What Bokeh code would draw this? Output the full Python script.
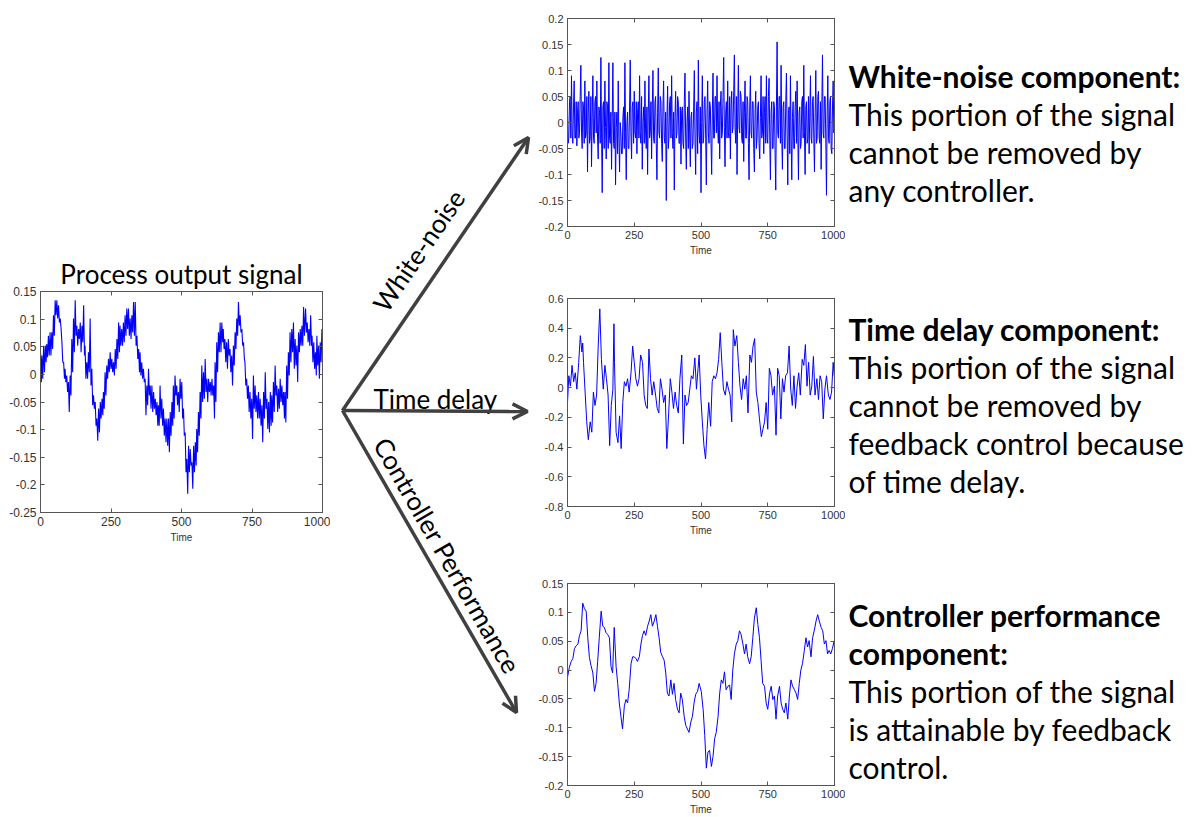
import math
from bokeh.plotting import figure
from bokeh.layouts import row, column
from bokeh.models import Range1d, FixedTicker, LinearAxis, Arrow, OpenHead, Spacer, CustomJSTickFormatter
from bokeh.core.properties import value
from bokeh.embed import file_html
from bokeh.resources import INLINE

# ---------------- data ----------------
x_ticks = [0, 250, 500, 750, 1000]
x_tick_labels = ["0", "250", "500", "750", "1000"]

proc_y_ticks = [-0.25, -0.2, -0.15, -0.1, -0.05, 0.0, 0.05, 0.1, 0.15]
proc_y_labels = ["-0.25", "-0.2", "-0.15", "-0.1", "-0.05", "0", "0.05", "0.1", "0.15"]
wn_y_ticks = [-0.2, -0.15, -0.1, -0.05, 0.0, 0.05, 0.1, 0.15, 0.2]
wn_y_labels = ["-0.2", "-0.15", "-0.1", "-0.05", "0", "0.05", "0.1", "0.15", "0.2"]
td_y_ticks = [-0.8, -0.6, -0.4, -0.2, 0.0, 0.2, 0.4, 0.6]
td_y_labels = ["-0.8", "-0.6", "-0.4", "-0.2", "0", "0.2", "0.4", "0.6"]
cp_y_ticks = [-0.2, -0.15, -0.1, -0.05, 0.0, 0.05, 0.1, 0.15]
cp_y_labels = ["-0.2", "-0.15", "-0.1", "-0.05", "0", "0.05", "0.1", "0.15"]

# Process output signal: sample times with upper / lower extent of the noisy trace
proc_t = [0, 5, 11, 17, 22, 28, 34, 40, 46, 52,
          58, 64, 70, 76, 82, 87, 93, 99, 105, 111,
          117, 123, 129, 135, 141, 147, 153, 158, 164, 170,
          176, 182, 188, 194, 200, 206, 212, 218, 223, 229,
          235, 241, 247, 253, 259, 265, 271, 277, 282, 288,
          294, 300, 306, 312, 318, 324, 330, 336, 342, 348,
          353, 359, 365, 371, 377, 383, 389, 395, 401, 407,
          413, 418, 424, 430, 436, 442, 448, 454, 460, 466,
          471, 477, 483,
          489, 495, 501, 507, 513, 519, 525, 531, 537, 543,
          549, 554, 560, 566, 572, 578, 584, 590, 596, 602,
          608, 614, 619, 625, 631, 637, 643, 648, 654, 660,
          666, 672, 678, 684, 690, 696, 702, 708, 714, 720,
          725, 731, 737, 743, 749, 755, 761, 767, 773, 779,
          785, 791, 797, 803, 809, 815, 820, 826, 832, 838,
          844, 850, 856, 862, 867, 873, 879, 885, 891, 897,
          903, 909, 915, 921, 927, 933, 940, 946, 952, 958,
          963, 969, 975, 980, 986, 992, 998]
proc_hi = [0.040, 0.034, 0.052, 0.052, 0.055, 0.070, 0.076, 0.076, 0.107, 0.134,
           0.134, 0.125, 0.101, 0.058, 0.022, 0.010, -0.002, -0.014, -0.002, 0.064,
           0.101, 0.134, 0.088, 0.082, 0.094, 0.088, 0.125, 0.052, 0.022, 0.040,
           0.101, 0.010, -0.038, -0.050, -0.080, -0.062, -0.050, -0.044, -0.032, 0.004,
           0.016, 0.028, 0.040, 0.028, 0.022, 0.046, 0.064, 0.094, 0.088, 0.082,
           0.094, 0.107, 0.119, 0.119, 0.101, 0.107, 0.131, 0.131, 0.070, 0.046,
           0.040, 0.022, 0.010, -0.008, -0.020, 0.010, -0.020, -0.020, -0.032, -0.044,
           -0.050, -0.056, -0.020, -0.044, -0.062, -0.080, -0.080, -0.080, -0.068, -0.050,
           -0.020, -0.002, -0.020,
           -0.032, -0.008, -0.014, -0.062, -0.105, -0.153, -0.129, -0.135, -0.159, -0.129,
           -0.123, -0.099, -0.068, -0.032, 0.016, 0.004, 0.028, -0.008, -0.008, -0.014,
           -0.008, -0.020, 0.022, 0.058, 0.076, 0.094, 0.094, 0.082, 0.064, 0.058,
           0.064, 0.046, 0.034, 0.052, 0.076, 0.101, 0.131, 0.107, 0.082, 0.058,
           0.022, -0.008, -0.020, -0.032, -0.044, -0.002, -0.020, -0.038, -0.032, -0.044,
           -0.056, -0.032, 0.004, -0.044, -0.050, -0.032, -0.038, -0.014, 0.016, -0.020,
           -0.026, -0.008, -0.020, -0.032, -0.032, 0.016, 0.040, 0.076, 0.082, 0.094,
           0.064, 0.052, 0.076, 0.082, 0.088, 0.122, 0.119, 0.094, 0.082, 0.107,
           0.070, 0.058, 0.040, 0.070, 0.052, 0.058, 0.082]
proc_lo = [-0.014, -0.008, 0.004, 0.022, 0.031, 0.034, 0.034, 0.046, 0.070, 0.107,
           0.101, 0.094, 0.082, 0.022, -0.008, -0.014, -0.032, -0.068, -0.038, 0.004,
           0.040, 0.070, 0.052, 0.064, 0.040, 0.058, 0.034, -0.008, -0.008, 0.004,
           -0.020, -0.056, -0.062, -0.093, -0.120, -0.105, -0.080, -0.074, -0.062, -0.038,
           -0.008, 0.004, 0.010, 0.004, -0.002, 0.010, 0.028, 0.040, 0.052, 0.052,
           0.058, 0.070, 0.082, 0.070, 0.064, 0.076, 0.070, 0.052, 0.028, 0.004,
           -0.002, -0.008, -0.014, -0.074, -0.056, -0.038, -0.062, -0.068, -0.062, -0.074,
           -0.093, -0.093, -0.080, -0.093, -0.111, -0.123, -0.129, -0.141, -0.111, -0.093,
           -0.080, -0.038, -0.056,
           -0.068, -0.044, -0.080, -0.111, -0.177, -0.216, -0.177, -0.165, -0.207, -0.177,
           -0.165, -0.141, -0.111, -0.080, -0.050, -0.044, -0.032, -0.050, -0.032, -0.038,
           -0.038, -0.080, -0.050, 0.004, 0.040, 0.040, 0.058, 0.046, 0.022, 0.010,
           0.034, 0.004, -0.020, 0.016, 0.046, 0.070, 0.088, 0.076, 0.052, 0.028,
           -0.020, -0.044, -0.068, -0.080, -0.117, -0.062, -0.068, -0.080, -0.080, -0.093,
           -0.123, -0.080, -0.062, -0.099, -0.105, -0.093, -0.087, -0.068, -0.038, -0.068,
           -0.062, -0.050, -0.056, -0.080, -0.087, -0.044, -0.002, 0.022, 0.040, 0.010,
           0.016, -0.014, 0.040, 0.052, 0.052, 0.070, 0.076, 0.058, 0.052, 0.052,
           0.022, 0.010, -0.002, 0.016, -0.008, 0.022, 0.040]

# White-noise component: one value every 5 time units (0..1000) ...
wn_t = list(range(0, 1001, 5))
wn_v = [0.02, -0.03, 0.05, 0.09, -0.04, 0.08, -0.03, -0.045, 0.04, -0.02,
        0.11, -0.05, 0.03, 0.08, -0.02, -0.095, 0.06, -0.03, -0.085, 0.09,
        -0.04, 0.05, 0.08, -0.07, 0.02, 0.125, -0.135, 0.04, 0.08, -0.07,
        0.03, 0.115, -0.04, -0.09, 0.115, -0.05, -0.12, 0.02, 0.08, -0.095,
        -0.02, -0.06, 0.03, 0.115, -0.11, 0.02, -0.05, 0.12, -0.07, 0.04,
        0.06, -0.03, -0.06, 0.04, 0.09, -0.04, -0.09, 0.03, 0.08, -0.05,
        -0.1, 0.09, -0.02, -0.07, 0.1, -0.04, 0.05, -0.11, 0.105, -0.03,
        0.04, -0.075, 0.08, -0.04, -0.15, 0.07, -0.03, 0.05, 0.09, -0.05,
        -0.13, 0.06, -0.02, 0.04, -0.04, -0.08, 0.03, -0.05, 0.095, -0.09,
        0.03, 0.06, -0.085, 0.02, -0.04, 0.1, -0.1, 0.04, 0.12, -0.04,
        -0.135, 0.09, -0.03, 0.05, -0.12, 0.08, -0.04, 0.03, -0.1, 0.095,
        -0.03, 0.05, 0.09, -0.04, -0.07, 0.06, -0.02, 0.125, -0.085, 0.04,
        0.08, -0.03, -0.07, 0.06, -0.01, 0.13, -0.04, -0.1, 0.11, -0.02,
        0.05, -0.04, -0.075, 0.08, -0.03, 0.04, -0.11, 0.09, -0.03, 0.04,
        -0.095, 0.06, -0.03, 0.04, -0.07, 0.09, -0.02, -0.06, 0.05, 0.09,
        -0.04, 0.085, -0.11, 0.04, -0.05, 0.03, -0.13, 0.155, -0.03, 0.05,
        0.11, -0.09, 0.04, -0.05, 0.095, -0.12, 0.03, 0.09, -0.11, 0.04,
        -0.05, 0.06, 0.08, -0.11, 0.03, -0.04, 0.05, 0.11, -0.1, 0.04,
        -0.03, -0.06, 0.09, -0.04, 0.05, -0.095, 0.1, -0.03, 0.06, -0.04,
        -0.09, 0.13, -0.03, 0.05, -0.14, 0.09, -0.04, 0.05, -0.06, 0.08,
        0.0]
# ... and the dense core of the trace half-way between them (t + 2.5)
wn_mid = [-0.04, 0.04, -0.03, -0.02, 0.03, -0.03, 0.04, 0.02, -0.03, 0.05,
          -0.02, 0.04, -0.04, -0.03, 0.05, 0.02, -0.04, 0.05, 0.01, -0.03,
          0.04, -0.02, -0.03, 0.03, -0.04, -0.02, 0.03, -0.05, -0.01, 0.04,
          -0.05, -0.03, 0.02, 0.01, -0.04, 0.02, -0.01, -0.06, -0.03, 0.0,
          -0.06, 0.01, -0.05, -0.02, 0.0, -0.05, 0.03, -0.02, 0.03, -0.04,
          -0.02, 0.04, 0.02, -0.03, -0.02, 0.05, 0.0, -0.04, -0.02, 0.03,
          0.02, -0.03, 0.04, 0.03, -0.03, 0.04, -0.04, 0.02, -0.02, 0.05,
          -0.04, 0.03, -0.03, 0.02, 0.01, -0.05, 0.04, -0.03, -0.02, 0.02,
          0.01, -0.03, 0.05, -0.04, 0.03, 0.02, -0.04, 0.04, -0.03, 0.0,
          -0.05, -0.02, 0.01, -0.05, 0.03, -0.03, 0.02, -0.06, -0.02, 0.03,
          0.0, -0.04, 0.04, -0.03, 0.02, -0.02, 0.04, -0.04, 0.02, -0.03,
          0.05, -0.02, -0.01, 0.04, 0.03, -0.03, 0.05, -0.01, 0.02, -0.03,
          -0.02, 0.05, 0.03, -0.02, 0.06, -0.01, 0.05, 0.02, -0.01, 0.06,
          -0.03, 0.04, 0.02, -0.03, 0.05, -0.04, 0.03, -0.02, 0.04, -0.05,
          0.02, -0.05, 0.03, -0.04, 0.01, -0.03, 0.05, 0.02, -0.04, -0.03,
          0.05, -0.03, 0.02, -0.05, 0.04, -0.06, 0.03, -0.02, 0.05, -0.04,
          -0.03, 0.03, -0.05, 0.04, -0.02, 0.02, -0.06, -0.03, 0.01, -0.05,
          0.03, -0.04, -0.02, 0.02, -0.05, 0.04, -0.03, -0.02, 0.03, -0.04,
          0.05, 0.02, -0.03, 0.04, -0.03, 0.02, -0.04, 0.05, -0.03, 0.04,
          0.03, -0.02, 0.05, -0.04, 0.02, -0.03, 0.04, -0.05, 0.03, -0.02]

# Time delay component
td_t = [0, 5, 11, 17, 23, 29, 35, 42, 48, 54, 57, 60, 66, 72, 78, 85, 91, 97, 103, 109,
        115, 121, 127, 134, 140, 146, 152, 158, 164, 170, 174, 176, 182, 189, 195, 201, 207, 213, 219, 225,
        231, 238, 244, 250, 256, 262, 268, 274, 281, 287, 293, 299, 305, 311, 317, 323, 330, 336, 342, 348,
        354, 360, 366, 372, 379, 385, 391, 397, 403, 409, 415, 421, 428, 434, 440, 446, 452, 458, 464, 470,
        477, 483, 489, 493, 499, 505, 511, 517, 523, 529, 536, 542, 548, 554, 560, 566, 572, 578, 584, 591,
        597, 603, 609, 615, 621, 627, 634, 640, 646, 652, 658, 664, 670, 676, 683, 689, 695, 701, 707, 713,
        719, 726, 732, 738, 744, 750, 756, 762, 768, 775, 781, 787, 793, 799, 805, 811, 817, 824, 830, 836,
        842, 848, 854, 860, 866, 872, 879, 885, 891, 897, 903, 909, 915, 921, 927, 934, 940, 946, 952, 958,
        964, 970, 977, 983, 989, 995, 999]
td_v = [-0.10, 0.08, 0.01, 0.15, 0.04, 0.10, -0.01, 0.17, 0.35, 0.24, 0.30, 0.17, -0.03, -0.23, -0.35, -0.23, -0.30, -0.03, -0.12, -0.05,
        0.28, 0.53, 0.19, -0.01, 0.15, 0.06, -0.05, -0.39, -0.12, -0.01, 0.43, 0.17, -0.30, -0.37, -0.19, -0.41, -0.10, 0.04, 0.01, 0.06,
        -0.03, 0.10, 0.28, 0.17, 0.06, 0.01, 0.06, 0.22, 0.17, -0.05, -0.12, -0.14, 0.26, 0.06, -0.05, 0.04, -0.05, -0.14, -0.17, 0.06,
        -0.01, -0.10, -0.05, -0.41, -0.17, 0.06, -0.03, -0.14, -0.03, -0.12, -0.17, 0.06, 0.22, -0.38, -0.05, -0.12, -0.10, -0.01, 0.08, 0.06,
        0.20, -0.01, 0.13, 0.22, -0.05, -0.23, -0.39, -0.48, -0.28, -0.10, -0.26, 0.04, 0.08, 0.06, 0.10, 0.19, 0.37, 0.17, -0.01, -0.05,
        0.04, -0.01, -0.05, -0.23, 0.39, 0.28, 0.35, 0.17, 0.01, -0.08, 0.06, -0.01, 0.08, -0.17, 0.22, 0.17, 0.28, 0.33, -0.03, -0.10,
        -0.21, -0.33, -0.28, -0.23, -0.10, -0.28, 0.13, 0.08, -0.05, 0.01, -0.32, 0.13, 0.08, -0.21, 0.06, -0.03, 0.08, 0.10, 0.28, -0.01,
        -0.12, 0.08, -0.14, 0.01, 0.10, -0.05, 0.19, 0.15, 0.29, 0.01, 0.17, -0.05, 0.01, 0.21, -0.05, 0.06, -0.08, 0.08, 0.04, -0.21,
        -0.01, 0.08, -0.05, -0.08, -0.03, 0.17, 0.08]

# Controller performance component
cp_t = [0, 7, 14, 20, 26, 32, 39, 45, 51, 57, 63, 70, 76, 82, 88, 95, 101, 107, 113, 119,
        126, 132, 138, 144, 150, 157, 163, 169, 175, 182, 188, 194, 200, 206, 213, 219, 225, 231, 238, 244,
        250, 256, 262, 269, 275, 281, 287, 293, 300, 306, 312, 318, 325, 331, 337, 343, 349, 356, 362, 368,
        374, 380, 387, 393, 399, 405, 412, 418, 424, 430, 437, 443, 449, 455, 462, 468, 474, 480, 487, 493,
        501, 508, 514, 520, 526, 532, 539, 545, 551, 557, 564, 570, 576, 582, 588, 594, 601, 607, 613, 619,
        625, 632, 638, 644, 650, 657, 663, 669, 675, 682, 688, 694, 700, 707, 713, 719, 725, 731, 738, 744,
        750, 757, 763, 769, 775, 781, 787, 794, 800, 806, 812, 818, 825, 831, 837, 843, 850, 856, 862, 868,
        874, 880, 887, 893, 899, 905, 912, 918, 924, 931, 937, 943, 950, 956, 962, 968, 974, 980, 986, 992,
        999]
cp_v = [-0.012, 0.005, 0.015, 0.02, 0.037, 0.042, 0.045, 0.06, 0.068, 0.116, 0.107, 0.102, 0.056, 0.022, 0.008, -0.005, -0.037, -0.023, 0.015, 0.056,
        0.102, 0.076, 0.074, 0.065, 0.062, 0.056, 0.006, -0.005, 0.074, 0.006, -0.023, -0.057, -0.08, -0.102, -0.062, -0.051, -0.057, -0.034, 0.011, 0.023,
        0.023, 0.02, 0.015, 0.023, 0.045, 0.06, 0.068, 0.06, 0.076, 0.085, 0.096, 0.076, 0.085, 0.096, 0.076, 0.056, 0.031, 0.023, 0.017, -0.005,
        -0.04, -0.045, -0.017, -0.042, -0.023, -0.051, -0.068, -0.074, -0.04, -0.051, -0.08, -0.096, -0.102, -0.108, -0.09, -0.08, -0.057, -0.042, -0.037, -0.023,
        -0.037, -0.068, -0.113, -0.17, -0.142, -0.139, -0.167, -0.15, -0.119, -0.108, -0.08, -0.04, -0.017, -0.023, -0.003, -0.034, -0.028, -0.026, -0.051, 0.0,
        0.028, 0.045, 0.051, 0.068, 0.062, 0.045, 0.028, 0.045, 0.023, 0.011, 0.023, 0.056, 0.09, 0.108, 0.079, 0.056, 0.017, -0.023, -0.028, -0.057,
        -0.068, -0.04, -0.028, -0.051, -0.045, -0.085, -0.045, -0.028, -0.057, -0.068, -0.074, -0.057, -0.085, -0.045, -0.017, -0.028, -0.034, -0.04, -0.051, -0.023,
        0.0, 0.011, 0.034, 0.056, 0.04, 0.051, 0.023, 0.056, 0.068, 0.085, 0.096, 0.085, 0.074, 0.068, 0.045, 0.051, 0.028, 0.034, 0.028, 0.037,
        0.051]

title_text = "Process output signal"
arrow_labels = ["White-noise", "Time delay", "Controller Performance"]
blocks = [
    (["White-noise component:"], ["This portion of the signal", "cannot be removed by", "any controller."]),
    (["Time delay component:"], ["This portion of the signal", "cannot be removed by", "feedback control because", "of time delay."]),
    (["Controller performance", "component:"], ["This portion of the signal", "is attainable by feedback", "control."]),
]

# ---------------- styling ----------------
BLUE = "#0000ff"
AXC = "#555555"
LBL = "#333333"
ARW = "#404040"
TFONT = "Lato"
AFONT = "Liberation Sans"


def chart(width, height, y0, y1, yt, yl, mbl, mbr, mbt, mbb, fs, title=None):
    p = figure(width=width, height=height, x_range=Range1d(0, 1000), y_range=Range1d(y0, y1),
               output_backend="svg", toolbar_location=None,
               min_border_left=mbl, min_border_right=mbr, min_border_top=mbt, min_border_bottom=mbb,
               x_axis_label="Time")
    p.grid.visible = False
    p.outline_line_color = AXC
    p.background_fill_color = "white"
    p.border_fill_color = None
    for ax, ticks, labels in ((p.xaxis[0], x_ticks, x_tick_labels), (p.yaxis[0], yt, yl)):
        ax.ticker = FixedTicker(ticks=ticks)
        ax.major_label_overrides = dict(zip(ticks, labels))
        ax.major_tick_in = 4
        ax.major_tick_out = 0
        ax.minor_tick_line_color = None
        ax.axis_line_color = AXC
        ax.major_tick_line_color = AXC
        ax.major_label_text_font = AFONT
        ax.major_label_text_font_size = f"{fs}px"
        ax.major_label_text_color = LBL
        ax.major_label_standoff = 4
    p.xaxis.axis_label_text_font = AFONT
    p.xaxis.axis_label_text_font_size = "10px"
    p.xaxis.axis_label_text_font_style = "normal"
    p.xaxis.axis_label_text_color = LBL
    p.xaxis.axis_label_standoff = 3
    for loc, ticks in (("right", yt), ("above", x_ticks)):
        ax = LinearAxis(ticker=FixedTicker(ticks=ticks), formatter=CustomJSTickFormatter(code="return ''"),
                        major_tick_in=4, major_tick_out=0, minor_tick_line_color=None,
                        axis_line_color=AXC, major_tick_line_color=AXC, major_label_standoff=0)
        p.add_layout(ax, loc)
    if title:
        p.title.text = title
        p.title.align = "center"
        p.title.text_font = TFONT
        p.title.text_font_size = "26px"
        p.title.text_font_style = "normal"
        p.title.text_color = "#000000"
        p.title.standoff = 4
    return p


def canvas(x0, x1):
    c = figure(width=x1 - x0, height=817, x_range=Range1d(x0, x1), y_range=Range1d(817, 0),
               output_backend="svg", toolbar_location=None, min_border=0,
               x_axis_location=None, y_axis_location=None)
    c.grid.visible = False
    c.outline_line_color = None
    return c


# left chart
pA = chart(330, 300, -0.25, 0.15, proc_y_ticks, proc_y_labels, 40, 8, 41, 38, 12, title=title_text)
proc_x, proc_y = [], []
for t, hi, lo in zip(proc_t, proc_hi, proc_lo):
    proc_x += [t, t + 3]
    proc_y += [hi, lo]
pA.line(proc_x, proc_y, line_color=BLUE, line_width=1.1)

# arrows canvas
cB = canvas(330, 535)
vx, vy = 342, 410
ends = [(528, 137), (527, 411), (516, 712)]
for ex, ey in ends:
    cB.add_layout(Arrow(end=OpenHead(size=15, line_color=ARW, line_width=3.5),
                        x_start=vx, y_start=vy, x_end=ex, y_end=ey,
                        line_color=ARW, line_width=3.5))
cB.text(x=[418], y=[250], text=[arrow_labels[0]], angle=math.radians(55.7),
        text_align="center", text_baseline="middle", text_font=value(TFONT),
        text_font_size="26px", text_color="#000000")
cB.text(x=[373], y=[398], text=[arrow_labels[1]], text_align="left", text_baseline="middle",
        text_font=value(TFONT), text_font_size="26px", text_color="#000000")
cB.text(x=[447], y=[555], text=[arrow_labels[2]], angle=math.radians(-60.1),
        text_align="center", text_baseline="middle", text_font=value(TFONT),
        text_font_size="26px", text_color="#000000")

# right charts
pT = chart(310, 262, -0.2, 0.2, wn_y_ticks, wn_y_labels, 31, 11, 18, 36, 11)
wn_x, wn_y = [], []
for i, (t, v) in enumerate(zip(wn_t, wn_v)):
    wn_x.append(t)
    wn_y.append(v)
    if i < len(wn_mid):
        wn_x.append(t + 2.5)
        wn_y.append(wn_mid[i])
pT.line(wn_x, wn_y, line_color=BLUE, line_width=1)
pM = chart(310, 298, -0.8, 0.6, td_y_ticks, td_y_labels, 26, 11, 36, 54, 11)
pM.line(td_t, td_v, line_color=BLUE, line_width=1)
pC = chart(310, 257, -0.2, 0.15, cp_y_ticks, cp_y_labels, 31, 11, 23, 28, 11)
pC.line(cp_t, cp_v, line_color=BLUE, line_width=1)

# text canvas
cD = canvas(845, 1196)
block_tops = [75, 328, 614]
for (bold_lines, plain_lines), y0 in zip(blocks, block_tops):
    ys = [y0 + 38 * i for i in range(len(bold_lines) + len(plain_lines))]
    nb = len(bold_lines)
    cD.text(x=[848] * nb, y=ys[:nb], text=bold_lines, text_align="left", text_baseline="middle",
            text_font=value(TFONT), text_font_style="bold", text_font_size="30px", text_color="#000000")
    cD.text(x=[848] * len(plain_lines), y=ys[nb:], text=plain_lines, text_align="left",
            text_baseline="middle", text_font=value(TFONT), text_font_size="30px", text_color="#000000")

layout = row(
    column(Spacer(width=330, height=250), pA, Spacer(width=330, height=267)),
    cB,
    column(pT, pM, pC),
    cD,
)

open("out.html", "w").write(file_html(layout, INLINE))
